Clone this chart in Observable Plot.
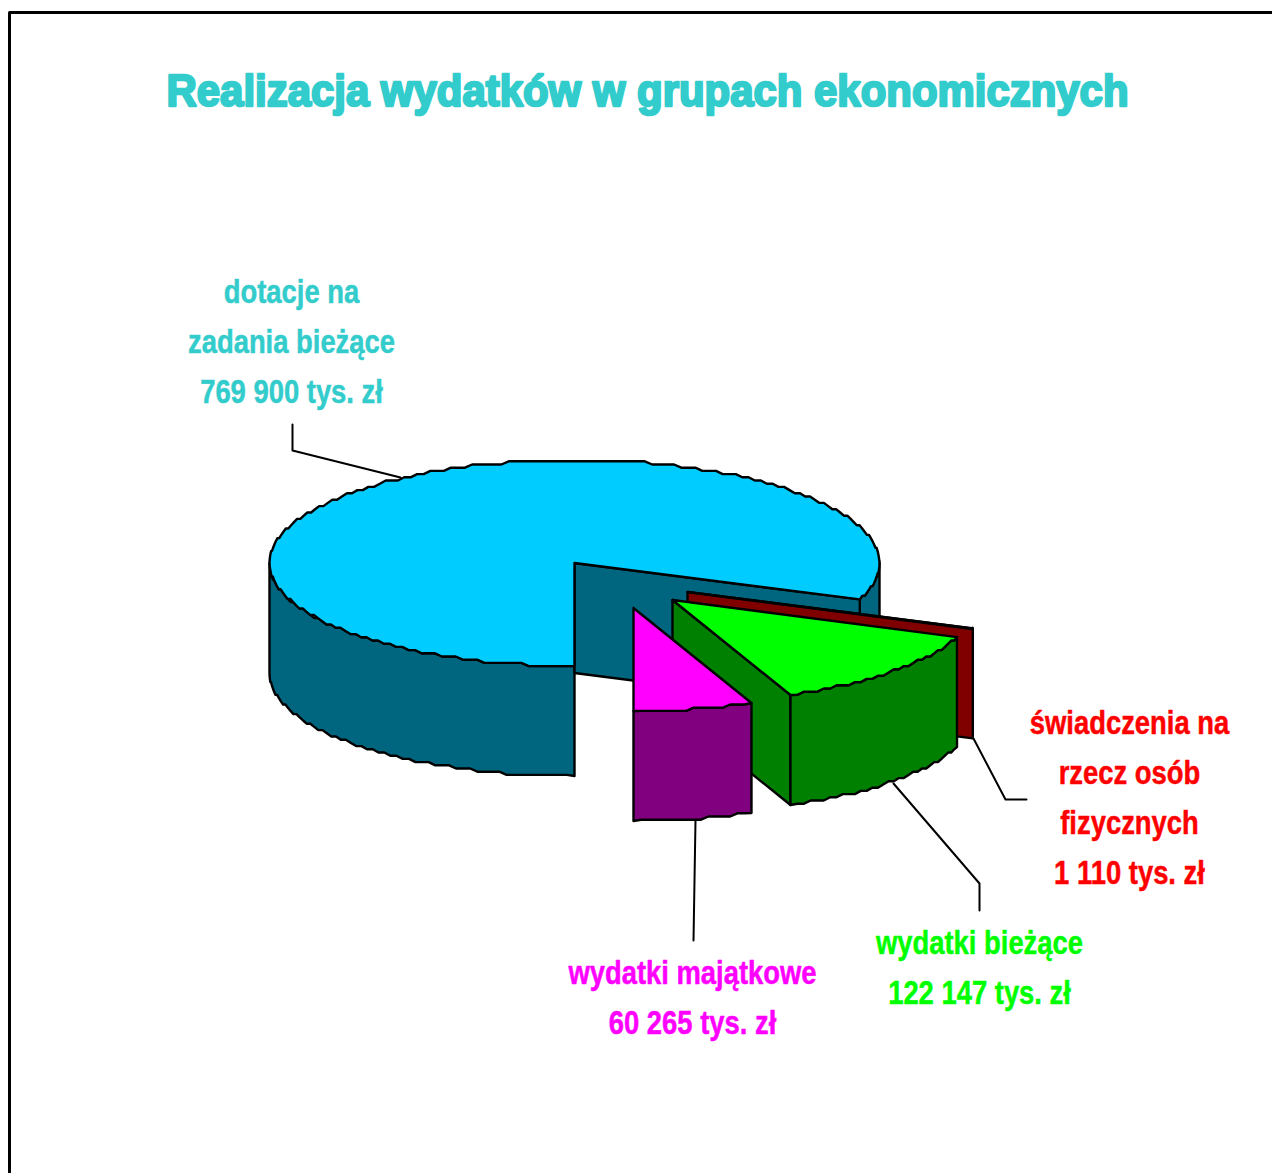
<!DOCTYPE html>
<html><head><meta charset="utf-8">
<style>html,body{margin:0;padding:0;background:#fff}svg{display:block}</style>
<script src="https://cdn.jsdelivr.net/npm/d3@7"></script>
<script src="https://cdn.jsdelivr.net/npm/@observablehq/plot@0.6"></script>
</head><body><script>
// data, in pie order (clockwise from 6 o'clock)
const categories = ["dotacje na zadania bieżące","świadczenia na rzecz osób fizycznych","wydatki bieżące","wydatki majątkowe"];
const values = [769900, 1110, 122147, 60265];
const titleText = "Realizacja wydatków w grupach ekonomicznych";
const labelLines = [
  ["dotacje na","zadania bieżące","769 900 tys. zł"],
  ["świadczenia na","rzecz osób","fizycznych","1 110 tys. zł"],
  ["wydatki bieżące","122 147 tys. zł"],
  ["wydatki majątkowe","60 265 tys. zł"]
];
// layout
const W=1272,H=1173, cx=574, cy=562.5, rx=305, ry=103, depth=110, stepGrid=3.2;
const explode=[[0,0],[113,29],[98,37],[59,45]];
const topColors=["#00CCFF","#800000","#00FF00","#FF00FF"];
const wallColors=["#006680","#800000","#008000","#800080"];
const textColors=["#33CCCC","#FF0000","#00FF00","#FF00FF"];
const labelAnchors=[[291,292],[1129,723],[979,943],[692,973]];
const leaders=[
  [[292,424],[292,450],[400,477]],
  [[973,738],[1005,799],[1026,799]],
  [[893,783],[979,883],[979,910]],
  [[695,820],[693,940]]
];
const borderLine=[[9,H],[9,12],[W,12]];

const arcs=d3.pie().sort(null).startAngle(Math.PI).endAngle(3*Math.PI)(values);
const pt=(i,a,d=0)=>[cx+explode[i][0]+rx*Math.sin(a), cy+explode[i][1]-ry*Math.cos(a)+d];
const apex=(i,d=0)=>[cx+explode[i][0], cy+explode[i][1]+d];
const snap=v=>Math.round(v/stepGrid)*stepGrid;
const arcPts=(i,a0,a1,d=0)=>{const n=Math.max(2,Math.ceil(Math.abs(a1-a0)/0.025));return d3.range(n+1).map(k=>{const p=pt(i,a0+(a1-a0)*k/n,d);return (k===0||k===n)?p:[p[0],snap(p[1])];});};
const face=(pts,fill)=>Plot.line([...pts,pts[0]],{x:d=>d[0],y:d=>d[1],fill,stroke:"#000",strokeWidth:2.4,strokeLinejoin:"round"});
const outerFace=(i,a0,a1)=>face([...arcPts(i,a0,a1),...arcPts(i,a1,a0,depth)],wallColors[i]);
const cutFace=(i,a)=>face([apex(i),pt(i,a),pt(i,a,depth),apex(i,depth)],wallColors[i]);
const topFace=(i)=>face([apex(i),...arcPts(i,arcs[i].startAngle,arcs[i].endAngle)],topColors[i]);

const [s0,s1,s2,s3]=arcs;
const marks=[
  // main slice
  outerFace(0,Math.PI,1.5*Math.PI),
  outerFace(0,2.5*Math.PI,s0.endAngle),
  cutFace(0,s0.endAngle),
  topFace(0),
  // świadczenia
  cutFace(1,s1.startAngle),
  topFace(1),
  // bieżące
  cutFace(2,s2.endAngle),
  outerFace(2,s2.startAngle,s2.endAngle),
  topFace(2),
  // majątkowe
  outerFace(3,s3.startAngle,s3.endAngle),
  topFace(3),
  // leaders and frame
  ...leaders.map(l=>Plot.line(l,{x:d=>d[0],y:d=>d[1],stroke:"#000",strokeWidth:2})),
  Plot.line(borderLine,{x:d=>d[0],y:d=>d[1],stroke:"#000",strokeWidth:3}),
  // title
  Plot.text([titleText],{x:()=>647,y:()=>91,text:d=>d,fill:"#33CCCC",stroke:"#33CCCC",strokeWidth:2.4,fontSize:44,fontWeight:"bold",fontFamily:"Liberation Sans",textAnchor:"middle",lineAnchor:"middle",className:"chart-title"}),
  // labels
  ...labelLines.map((lines,i)=>Plot.text(lines,{
    x:()=>labelAnchors[i][0], y:(d,k)=>labelAnchors[i][1]+k*50, text:d=>d,
    fill:textColors[i],stroke:textColors[i],strokeWidth:0.5,fontSize:33,fontWeight:"bold",fontFamily:"Liberation Sans",
    textAnchor:"middle",lineAnchor:"middle",className:"narrow-label"}))
];
const chart=Plot.plot({width:W,height:H,margin:0,
  x:{domain:[0,W],range:[0,W],axis:null},
  y:{domain:[0,H],range:[0,H],axis:null},
  marks});
document.body.append(chart);
// condense the label text (no narrow face is installed)
chart.querySelectorAll("g.narrow-label text").forEach(t=>{
  t.setAttribute("textLength",(t.getComputedTextLength()*0.83).toFixed(1));
  t.setAttribute("lengthAdjust","spacingAndGlyphs");
});
chart.querySelectorAll("g.chart-title text").forEach(t=>{
  t.setAttribute("textLength","962");
  t.setAttribute("lengthAdjust","spacingAndGlyphs");
});
</script></body></html>
